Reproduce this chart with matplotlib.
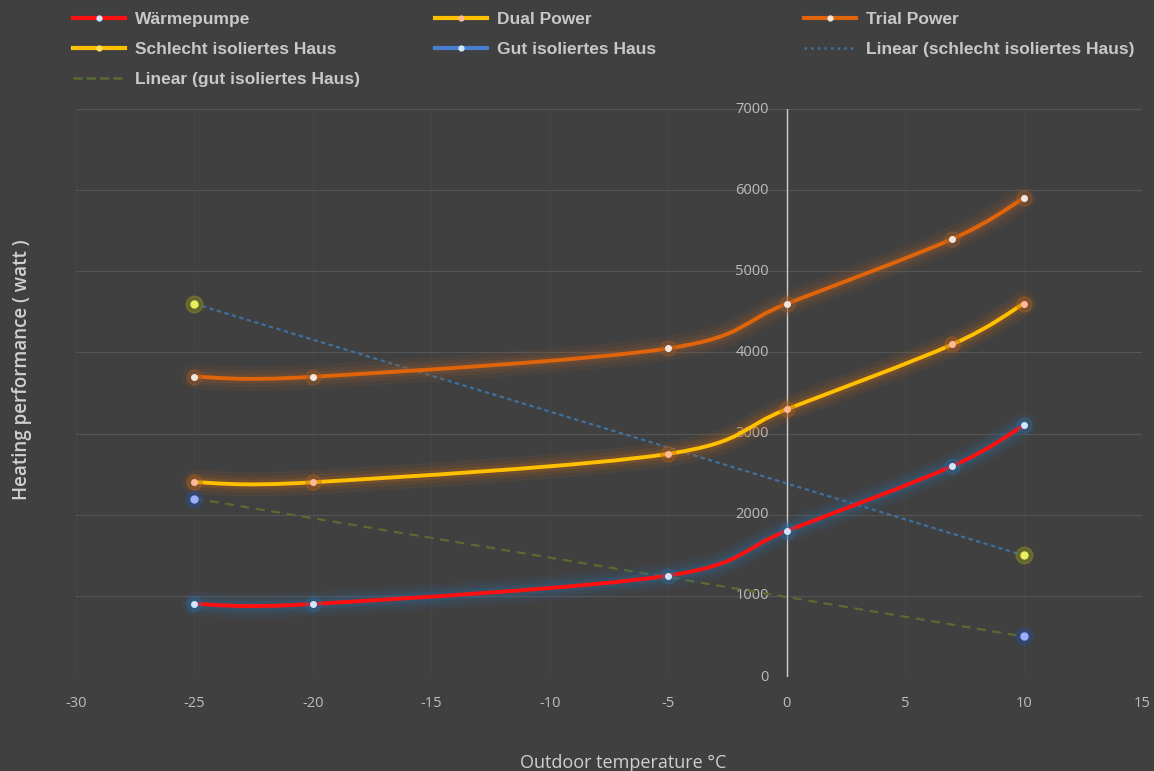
import numpy as np
import matplotlib
matplotlib.use("Agg")
import matplotlib.pyplot as plt
from matplotlib.path import Path
from matplotlib.patches import PathPatch
from matplotlib.lines import Line2D

plt.rcParams["axes.unicode_minus"] = False

# data
temps = [-25, -20, -5, 0, 7, 10]
waermepumpe = [900, 900, 1250, 1800, 2600, 3100]
dual_power = [2400, 2400, 2750, 3300, 4100, 4600]
trial_power = [3700, 3700, 4050, 4600, 5400, 5900]
haus_temps = [-25, 10]
schlecht_haus = [4600, 1500]
gut_haus = [2200, 500]

x_ticks = [-30, -25, -20, -15, -10, -5, 0, 5, 10, 15]
y_ticks = [0, 1000, 2000, 3000, 4000, 5000, 6000, 7000]

BG = "#404040"
TXT = "#d0d0d0"


def smooth_path(xs, ys):
    # Catmull-Rom control points turned into cubic bezier segments (Excel-style smoothing)
    p = np.column_stack([xs, ys]).astype(float)
    verts = [p[0]]
    codes = [Path.MOVETO]
    n = len(p)
    for i in range(n - 1):
        p0 = p[i - 1] if i > 0 else p[i]
        p1, p2 = p[i], p[i + 1]
        p3 = p[i + 2] if i + 2 < n else p[i + 1]
        c1 = p1 + (p2 - p0) / 6.0
        c2 = p2 - (p3 - p1) / 6.0
        verts += [c1, c2, p2]
        codes += [Path.CURVE4] * 3
    return Path(verts, codes)


fig = plt.figure(figsize=(11.54, 7.71), dpi=100, facecolor=BG)
ax = fig.add_axes([0.0659, 0.1219, 0.9237, 0.7367])
ax.set_facecolor(BG)
ax.set_xlim(-30, 15)
ax.set_ylim(0, 7000)

for s in ax.spines.values():
    s.set_visible(False)
ax.axvline(0, color="#cfcfcf", lw=1.0, zorder=2)
ax.set_yticks(y_ticks)
ax.set_xticks(x_ticks)
ax.grid(True, axis="y", color="#555555", lw=0.8, zorder=0)
ax.grid(True, axis="x", color="#474747", lw=0.6, zorder=0)
ax.tick_params(length=0, colors="#bdbdbd", labelsize=10.5)
ax.tick_params(axis="x", pad=14)
# y tick labels sit next to the axis at x=0
ax.set_yticklabels([])
for v in y_ticks:
    ax.text(-0.75, v, str(v), ha="right", va="center", color="#bdbdbd",
            fontsize=10.5, family="Open Sans")
for lbl in ax.get_xticklabels():
    lbl.set_family("Open Sans")

# trend lines
ax.plot(haus_temps, schlecht_haus, color="#3f6f9c", lw=1.6, ls=(0, (2, 1.5)), zorder=3)
ax.plot(haus_temps, gut_haus, color="#5a6b32", lw=1.6, ls=(0, (4, 3)), zorder=3)

series = [
    (waermepumpe, "#ff1010", "#2f6a9a", "#cfe6ff"),
    (dual_power, "#ffc000", "#b0601a", "#ffb89a"),
    (trial_power, "#e0640a", "#9a5a2a", "#f2e6e0"),
]
for ys, col, glow, mk in series:
    path = smooth_path(temps, ys)
    for w, a in [(18, 0.10), (12, 0.15), (7, 0.25)]:
        ax.add_patch(PathPatch(path, fc="none", ec=glow, lw=w, alpha=a,
                               capstyle="round", joinstyle="round", zorder=4))
    ax.add_patch(PathPatch(path, fc="none", ec=col, lw=2.8, zorder=5))
    ax.plot(temps, ys, ls="none", marker="o", ms=11, color=glow, alpha=0.35, zorder=5)
    ax.plot(temps, ys, ls="none", marker="o", ms=4, mfc=mk, mec=mk, zorder=6)

ax.plot(haus_temps, schlecht_haus, ls="none", marker="o", ms=12, color="#8a8a20", alpha=0.5, zorder=5)
ax.plot(haus_temps, schlecht_haus, ls="none", marker="o", ms=5, mfc="#e8f060", mec="#e8f060", zorder=6)
ax.plot(haus_temps, gut_haus, ls="none", marker="o", ms=12, color="#2a4a8a", alpha=0.5, zorder=5)
ax.plot(haus_temps, gut_haus, ls="none", marker="o", ms=5, mfc="#9ab0ff", mec="#9ab0ff", zorder=6)

fig.text(0.54, 0.011, "Outdoor temperature °C", ha="center", va="center",
         color=TXT, fontsize=13, family="Open Sans")
fig.text(0.019, 0.52, "Heating performance ( watt )", rotation=90, ha="center", va="center",
         color=TXT, fontsize=13.5, family="Open Sans", weight="semibold")

# legend, three columns placed row-wise like the reference
cols = [
    [("Wärmepumpe", "#ff1010", "-", "#cfe6ff"),
     ("Schlecht isoliertes Haus", "#ffc000", "-", "#ffe060"),
     ("Linear (gut isoliertes Haus)", "#5a6b32", "--", None)],
    [("Dual Power", "#ffc000", "-", "#ffb89a"),
     ("Gut isoliertes Haus", "#4a7fd0", "-", "#cfe6ff")],
    [("Trial Power", "#e0640a", "-", "#f2e6e0"),
     ("Linear (schlecht isoliertes Haus)", "#3f6f9c", ":", None)],
]
col_x = [0.0498, 0.3634, 0.6831]
for cx, items in zip(col_x, cols):
    handles = []
    for name, c, ls, mk in items:
        if mk:
            h = Line2D([], [], color=c, lw=3, ls=ls, marker="o", ms=3.5, mfc=mk, mec=mk)
        else:
            h = Line2D([], [], color=c, lw=1.8, ls=ls)
        handles.append(h)
    fig.legend(handles, [i[0] for i in items], loc="upper left", bbox_to_anchor=(cx, 1.005),
               frameon=False, handlelength=3.0, handletextpad=0.55, labelspacing=0.85,
               prop={"family": "Liberation Sans", "weight": "bold", "size": 12.5},
               labelcolor="#c8c8c8")

fig.savefig("out.png", dpi=100, facecolor=BG)
